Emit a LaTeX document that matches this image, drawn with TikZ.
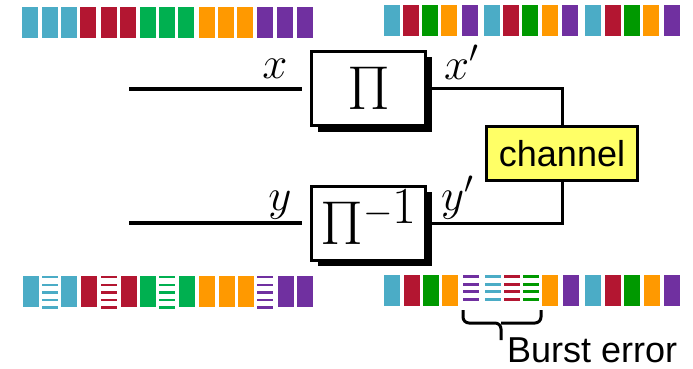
\documentclass[tikz,border=0pt]{standalone}
\usepackage{fix-cm}
\usepackage{fontspec}
\newfontfamily\labelsans{Liberation Sans}
\usetikzlibrary{shadows}

\definecolor{cyanbar}{HTML}{4BACC6}
\definecolor{redbar}{HTML}{B31631}
\definecolor{greenbar}{HTML}{00B050}
\definecolor{dkgreenbar}{HTML}{009900}
\definecolor{orangebar}{HTML}{FF9900}
\definecolor{purplebar}{HTML}{7030A0}
\definecolor{chanfill}{HTML}{FFFF66}

\tikzset{
  permbox/.style={draw=black, fill=white, line width=3pt, rectangle,
    minimum width=114pt, minimum height=74pt, inner sep=0pt,
    drop shadow={shadow xshift=6pt, shadow yshift=-6pt, fill=black, opacity=1},
    font=\fontsize{62}{62}\selectfont},
  chanbox/.style={draw=black, fill=chanfill, line width=3pt, rectangle,
    minimum width=151pt, minimum height=54pt, inner sep=0pt,
    font=\labelsans\fontsize{36}{36}\selectfont},
  mathlbl/.style={inner sep=0pt, font=\fontsize{45}{45}\selectfont},
  wire/.style={line width=3pt},
  inwire/.style={line width=3.5pt},
  brace/.style={line width=3pt, rounded corners=6pt},
}

\begin{document}
\begin{tikzpicture}[x=1pt, y=-1pt]
\useasboundingbox (0,0) rectangle (693,369);

% symbol sequence before interleaving
\foreach \x/\c in {22/cyanbar,42/cyanbar,61/cyanbar,80/redbar,101/redbar,120/redbar,
  140/greenbar,159/greenbar,178/greenbar,199/orangebar,218/orangebar,237/orangebar,
  257/purplebar,277/purplebar,297/purplebar}
  \fill[\c] (\x,7) rectangle ++(16,31);

% interleaved sequence
\foreach \x/\c in {384/cyanbar,403/redbar,422/dkgreenbar,441/orangebar,462/purplebar,
  484/cyanbar,503/redbar,522/dkgreenbar,542/orangebar,562/purplebar,
  585/cyanbar,605/redbar,624/dkgreenbar,643/orangebar,664/purplebar}
  \fill[\c] (\x,5) rectangle ++(16,31);

% received sequence with burst-damaged symbols (striped)
\foreach \x/\c in {384/cyanbar,404/redbar,423/dkgreenbar,442/orangebar,
  542/orangebar,563/purplebar,585/cyanbar,605/redbar,624/dkgreenbar,644/orangebar,664/purplebar}
  \fill[\c] (\x,275) rectangle ++(16,31);
\foreach \x/\c in {463/purplebar,485/cyanbar,504/redbar,523/dkgreenbar}
  \foreach \k in {0,...,3}
    \fill[\c] (\x,{275+7.7*\k}) rectangle ++(16,3);

% de-interleaved sequence: errors spread out
\foreach \x/\c in {23/cyanbar,61/cyanbar,81/redbar,121/redbar,140/greenbar,179/greenbar,
  199/orangebar,219/orangebar,238/orangebar,278/purplebar,297/purplebar}
  \fill[\c] (\x,276) rectangle ++(16,31);
\foreach \x/\c in {42/cyanbar,101/redbar,159/greenbar,257/purplebar}
  \foreach \k in {0,...,4}
    \fill[\c] (\x,{276+7.6*\k}) rectangle ++(16,2.4);

% interleaver, de-interleaver and channel
\node[permbox] (pi) at (368.5,88.5) {\raisebox{-7pt}{$\Pi$}};
\node[permbox] (piinv) at (368.5,223) {\raisebox{-11pt}{$\Pi$\smash{\raisebox{21pt}{\fontsize{38}{38}\selectfont$-$\fontsize{52}{52}\selectfont$1$}}}};
\node[chanbox] (chan) at (562,153.5) {channel};

% wires
\coordinate (xin) at (129,89);
\coordinate (yout) at (129,223);
\draw[inwire] (xin) -- ([xshift=-8pt]pi.west |- xin);
\draw[inwire] (yout) -- ([xshift=-8pt]piinv.west |- yout);
\draw[wire] (pi.east) -| (chan.north);
\draw[wire] (chan.south) |- (piinv.east);

% signal labels
\node[mathlbl, anchor=base] (lx) at (275,78) {$x$};
\node[mathlbl, anchor=base west] (lxp) at (444,79) {$x'$};
\node[mathlbl, anchor=base] (ly) at (280,210) {$y$};
\node[mathlbl, anchor=base west] (lyp) at (441,210) {$y'$};

% burst brace
\coordinate (bl) at (463,310);
\coordinate (br) at (541,310);
\coordinate (bm) at (501,323);
\coordinate (btip) at (501,340);
\draw[brace] (bl) |- (bm) -- (btip);
\draw[brace] (br) |- (bm);
\node[inner sep=0pt, anchor=base west, font=\labelsans\fontsize{36}{36}\selectfont] (burst) at (507,362) {Burst error};
\end{tikzpicture}
\end{document}
